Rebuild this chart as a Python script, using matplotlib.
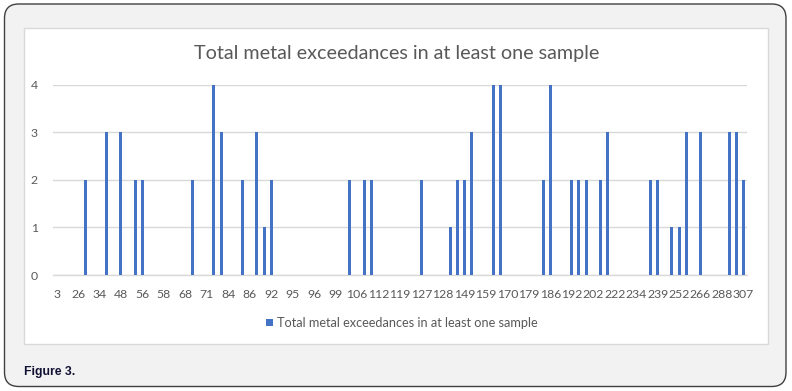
import numpy as np
import matplotlib
matplotlib.use("Agg")
import matplotlib.pyplot as plt
from matplotlib.patches import FancyBboxPatch, Rectangle

# ---- data ----
tick_labels = ["3", "26", "34", "48", "56", "58", "68", "71", "84", "86", "92",
               "95", "96", "99", "106", "112", "119", "127", "128", "149", "159", "170",
               "179", "186", "192", "202", "222", "234", "239", "252", "266", "288", "307"]
n_categories = 97
# nonzero exceedance counts by category index (all other categories are 0)
bar_index = [4, 7, 9, 11, 12, 19, 22, 23, 26, 28, 29, 30,
             41, 43, 44, 51, 55, 56, 57, 58, 61, 62,
             68, 69, 72, 73, 74, 76, 77, 83, 84, 86, 87, 88, 90, 94, 95, 96]
bar_value = [2, 3, 3, 2, 2, 2, 4, 3, 2, 3, 1, 2,
             2, 2, 2, 2, 1, 2, 2, 3, 4, 4,
             2, 4, 2, 2, 2, 2, 3, 2, 2, 1, 1, 3, 3, 3, 3, 2]
series_name = "Total metal exceedances in at least one sample"
title = "Total metal exceedances in at least one sample"

values = np.zeros(n_categories)
values[bar_index] = bar_value

W, H = 792, 391
fig = plt.figure(figsize=(W / 100, H / 100), dpi=100)
fig.patch.set_facecolor("white")

# outer rounded panel
outer = FancyBboxPatch((4.5 / W, 4.5 / H), (786 - 4.5) / W, (387 - 4.5) / H,
                       boxstyle="round,pad=0,rounding_size=0.018",
                       transform=fig.transFigure, facecolor="#f2f2f2",
                       edgecolor="#404040", linewidth=1.0, zorder=0,
                       mutation_aspect=W / H)
fig.add_artist(outer)
# white chart area
inner = Rectangle((24 / W, (H - 344) / H), (768 - 24) / W, (344 - 28) / H,
                  transform=fig.transFigure, facecolor="white",
                  edgecolor="#d9d9d9", linewidth=1.0, zorder=1)
fig.add_artist(inner)

ax = fig.add_axes([53 / W, (H - 275) / H, (747 - 53) / W, (275 - 84.5) / H])
ax.set_facecolor("none")
ax.set_zorder(2)

x = np.arange(n_categories)
ax.bar(x, values, width=0.42, color="#4472C4", zorder=3, label=series_name)

ax.set_xlim(-0.5, n_categories - 0.5)
ax.set_ylim(0, 4)
ax.set_yticks([0, 1, 2, 3, 4])
ax.set_xticks(np.arange(0, n_categories, 3))
ax.set_xticklabels(tick_labels)
ax.grid(axis="y", color="#d9d9d9", linewidth=1.0, zorder=0)
for s in ["top", "right", "left"]:
    ax.spines[s].set_visible(False)
ax.spines["bottom"].set_color("#d9d9d9")
ax.spines["bottom"].set_linewidth(1.0)
ax.tick_params(axis="both", length=0, labelcolor="#595959", labelsize=8.8)
ax.tick_params(axis="x", pad=10)
ax.tick_params(axis="y", pad=11)
for lab in ax.get_xticklabels() + ax.get_yticklabels():
    lab.set_family("Lato")

fig.text(397 / W, 1 - 53 / H, title, ha="center", va="center",
         fontsize=14.2, color="#595959", family="Lato", zorder=5)

leg = fig.legend(loc="center", bbox_to_anchor=(402 / W, 1 - 323 / H),
                 frameon=False, prop={"family": "Lato", "size": 9.2},
                 handlelength=0.55, handleheight=0.55, handletextpad=0.3,
                 labelcolor="#595959")

fig.text(24 / W, 1 - 372 / H, "Figure 3.", ha="left", va="center",
         fontsize=8.8, fontweight="bold", color="#111133",
         family="Liberation Sans", zorder=5)

fig.savefig("out.png", dpi=100, facecolor=fig.get_facecolor())
